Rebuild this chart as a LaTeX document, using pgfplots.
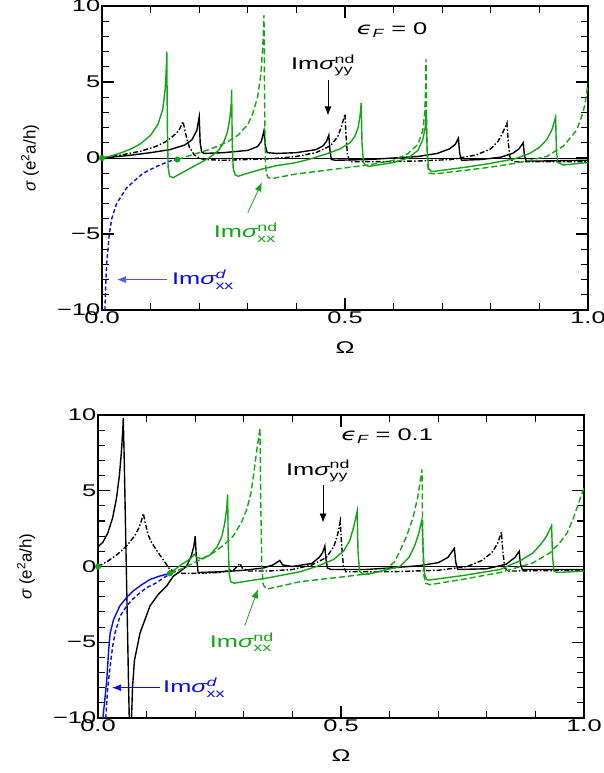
\documentclass[border=0pt]{standalone}
\usepackage{fontspec}
\setmainfont{Liberation Sans}
\newfontfamily\dejavu{DejaVu Sans}
\usepackage{amsmath}
\usepackage{pgfplots}
\pgfplotsset{compat=1.18}
\usetikzlibrary{arrows.meta}

\definecolor{pgreen}{RGB}{20,165,20}
\definecolor{pblue}{RGB}{10,10,240}
\newcommand\fs{\fontsize{17}{20}\selectfont}

\pgfplotsset{
  sigpanel/.style={
    scale only axis, width=486bp,
    xmin=0, xmax=1, ymin=-10, ymax=10,
    xtick={0,0.5,1}, xticklabels={0.0,0.5,1.0},
    ytick={-10,-5,0,5,10}, yticklabels={−10,−5,0,5,10},
    minor x tick num=4, minor y tick num=4,
    tick align=inside,
    major tick length=12bp, minor tick length=7bp,
    tick style={black, line width=1.1bp},
    axis line style={line width=1.6bp},
    tick label style={font=\fs, xscale=1.5},
    yticklabel style={inner sep=1bp},
    xticklabel style={inner sep=1bp},
    xlabel={Ω},
    ylabel={{\itshape σ} (e$^{\text{2}}$a/h)},
    every axis y label/.style={at={(axis description cs:-0.148,0.5)}, rotate=90, anchor=center, font=\fs},
    every axis x label/.style={at={(axis description cs:0.5,0)}, anchor=center, yshift=-38bp, xscale=1.5, font=\fs},
  },
  gsol/.style={pgreen, line width=1.4bp},
  gdash/.style={pgreen, line width=1.4bp, dash pattern=on 6bp off 3bp},
  ksol/.style={black, line width=1.4bp},
  kdd/.style={black, line width=1.4bp, dash pattern=on 5bp off 2bp on 1.5bp off 2bp},
  bsol/.style={pblue, line width=1.4bp},
  bdash/.style={pblue, line width=1.4bp, dash pattern=on 4bp off 2.5bp},
  zline/.style={black, line width=0.8bp},
  gdot/.style={only marks, mark=*, mark size=2.8bp, pgreen},
}

\begin{document}
\begin{tikzpicture}[x=1bp,y=1bp]
\useasboundingbox (0,0) rectangle (604,773);

% ---------------- top panel: eps_F = 0
\begin{axis}[sigpanel, height=304bp, at={(102bp,463bp)}, anchor=south west]
\addplot[zline] coordinates {(0,0) (1,0)};

% black dash-dot
\addplot[kdd] coordinates {
(0,0) (0.04,0.2) (0.08,0.45) (0.11,0.75) (0.13,1.05) (0.145,1.4) (0.158,1.8)
(0.164,2.2) (0.1667,2.4) (0.17,1.9) (0.175,1.2) (0.18,0.7) (0.19,0.2) (0.2,0.0)
(0.21,-0.1) (0.25,-0.15) (0.3,-0.1) (0.35,-0.05) (0.4,0.1) (0.44,0.35) (0.47,0.8)
(0.485,1.4) (0.493,2.1) (0.5,2.9) (0.502,1.5) (0.505,0.2) (0.51,-0.25) (0.55,-0.25)
(0.65,-0.2) (0.72,-0.1) (0.77,0.2) (0.8,0.6) (0.815,1.1) (0.825,1.7) (0.8333,2.3)
(0.836,1.0) (0.84,-0.1) (0.85,-0.25) (1.0,-0.25)};

% black solid
\addplot[ksol] coordinates {
(0,0) (0.05,0.15) (0.1,0.35) (0.14,0.55) (0.17,0.85) (0.185,1.2) (0.195,1.8)
(0.2,2.7) (0.202,1.0) (0.205,0.4) (0.21,0.3) (0.25,0.35) (0.3,0.5) (0.32,0.75)
(0.328,1.1) (0.3333,1.8) (0.336,0.8) (0.34,0.35) (0.36,0.3) (0.4,0.35) (0.44,0.55)
(0.455,0.8) (0.462,1.1) (0.4667,1.5) (0.469,0.5) (0.472,-0.1) (0.48,-0.15)
(0.55,-0.1) (0.6,0.0) (0.65,0.1) (0.69,0.3) (0.715,0.6) (0.727,0.9) (0.7333,1.3)
(0.736,0.3) (0.74,-0.15) (0.78,-0.1) (0.82,0.05) (0.845,0.3) (0.858,0.6)
(0.8667,1.0) (0.869,0.2) (0.873,-0.2) (0.9,-0.2) (1.0,-0.15)};

% blue dashed
\addplot[bdash] coordinates {
(0.006,-10) (0.008,-8) (0.01,-6.8) (0.015,-5) (0.02,-4) (0.03,-3) (0.04,-2.5)
(0.05,-2) (0.07,-1.4) (0.085,-1.0) (0.1,-0.75) (0.12,-0.45) (0.14,-0.2) (0.155,-0.1)};

% green dashed
\addplot[gdash] coordinates {
(0.155,-0.1) (0.18,0.15) (0.2,0.35) (0.22,0.55) (0.24,0.8) (0.26,1.1) (0.28,1.5)
(0.3,2.2) (0.31,2.9) (0.32,4.0) (0.327,5.5) (0.331,7.5) (0.3333,9.4) (0.3345,4)
(0.336,0) (0.338,-1.0) (0.342,-1.3) (0.35,-1.35) (0.4,-1.05) (0.45,-0.85)
(0.5,-0.65) (0.55,-0.45) (0.6,-0.15) (0.63,0.3) (0.65,0.9) (0.66,1.8) (0.664,3.0)
(0.666,4.8) (0.6667,6.5) (0.668,2) (0.67,-0.5) (0.673,-1.0) (0.685,-1.05)
(0.75,-0.8) (0.8,-0.6) (0.85,-0.35) (0.88,-0.15) (0.915,0.1) (0.95,0.8)
(0.977,1.85) (0.99,3.0) (0.995,3.8) (1.0,4.9)};

% green solid
\addplot[gsol] coordinates {
(0,0) (0.02,0.15) (0.04,0.35) (0.06,0.6) (0.08,0.95) (0.1,1.5) (0.115,2.2)
(0.125,3.2) (0.13,4.5) (0.1325,6.0) (0.1333,7.0) (0.1345,2) (0.136,-0.6)
(0.139,-1.2) (0.146,-1.3) (0.22,0) (0.24,0.5) (0.25,1.0) (0.258,1.7) (0.263,2.6)
(0.266,3.6) (0.2667,4.5) (0.268,1) (0.27,-0.7) (0.274,-1.1) (0.28,-1.2) (0.3,-1.0)
(0.33,-0.72) (0.36,-0.5) (0.4,-0.3) (0.43,-0.05) (0.46,0.25) (0.49,0.6) (0.51,1.0)
(0.52,1.4) (0.527,2.0) (0.531,2.8) (0.5333,3.6) (0.535,1) (0.538,-0.3) (0.543,-0.5)
(0.55,-0.55) (0.6,-0.3) (0.63,0) (0.65,0.5) (0.66,1.2) (0.665,2.0) (0.6667,3.2)
(0.669,0.5) (0.672,-0.7) (0.678,-0.9) (0.75,-0.6) (0.8,-0.35) (0.85,-0.05)
(0.88,0.3) (0.9,0.7) (0.915,1.2) (0.925,1.8) (0.93,2.3) (0.9333,2.7) (0.935,0.5)
(0.938,-0.3) (0.949,-0.46) (1.0,-0.3)};

\addplot[gdot] coordinates {(0,0) (0.155,-0.1)};

\node[font=\fs, xscale=1.5] at (axis cs:0.597,8.4) {{\dejavu\itshape ϵ}$_{\textit{F}}$ = 0};
\node[font=\fs, xscale=1.5] at (axis cs:0.455,6.1) {Im{\itshape σ}$^{\text{nd}}_{\text{yy}}$};
\draw[-{Latex[length=9bp,width=7bp]}, line width=0.8bp] (axis cs:0.465,5.1) -- (axis cs:0.465,2.8);
\node[font=\fs, xscale=1.5, text=pgreen] at (axis cs:0.296,-4.9) {Im{\itshape σ}$^{\text{nd}}_{\text{xx}}$};
\draw[pgreen, -{Latex[length=9bp,width=7bp]}, line width=0.8bp] (axis cs:0.300,-3.6) -- (axis cs:0.329,-1.6);
\node[font=\fs, xscale=1.5, text=pblue] at (axis cs:0.208,-8.0) {Im{\itshape σ}$^{\textit{d}}_{\text{xx}}$};
\draw[pblue!70, -{Latex[length=9bp,width=7bp]}, line width=0.8bp] (axis cs:0.134,-8.0) -- (axis cs:0.031,-8.0);
\end{axis}

% ---------------- bottom panel: eps_F = 0.1
\begin{axis}[sigpanel, height=303bp, at={(98bp,55bp)}, anchor=south west]
\addplot[zline] coordinates {(0,0) (1,0)};

% black dash-dot
\addplot[kdd] coordinates {
(0,0) (0.02,0.35) (0.04,0.8) (0.06,1.4) (0.075,2.0) (0.085,2.6) (0.09,3.1)
(0.0933,3.5) (0.097,2.9) (0.103,2.1) (0.11,1.6) (0.12,1.1) (0.134,0.45)
(0.148,-0.2) (0.17,-0.45) (0.2,-0.45) (0.25,-0.4) (0.28,-0.2) (0.292,0.2)
(0.297,-0.1) (0.31,-0.3) (0.35,-0.3) (0.4,-0.2) (0.44,0.1) (0.47,0.6) (0.485,1.3)
(0.493,2.1) (0.4985,3.0) (0.501,1.5) (0.505,0.0) (0.51,-0.35) (0.6,-0.35)
(0.7,-0.25) (0.76,0.0) (0.79,0.4) (0.81,0.9) (0.822,1.5) (0.83,2.26) (0.833,1.0)
(0.837,-0.1) (0.845,-0.3) (1.0,-0.25)};

% black solid
\addplot[ksol] coordinates {
(0,1.3) (0.01,1.6) (0.02,2.2) (0.03,3.2) (0.038,4.5) (0.044,6.0) (0.048,7.5)
(0.051,9.0) (0.052,9.8) (0.054,7) (0.057,2) (0.06,-3) (0.063,-8) (0.065,-11)};
\addplot[ksol] coordinates {
(0.068,-11) (0.071,-8) (0.075,-6.2) (0.0864,-4.4) (0.107,-2.6) (0.125,-1.8)
(0.141,-1.3) (0.155,-0.64) (0.17,-0.3) (0.182,0.0) (0.192,0.7) (0.197,1.3)
(0.2,2.0) (0.202,0.8) (0.206,-0.4) (0.25,-0.35) (0.3,-0.25) (0.34,-0.1)
(0.36,0.1) (0.374,0.4) (0.38,0.1) (0.4,0.0) (0.44,0.2) (0.455,0.6) (0.462,0.9)
(0.4667,1.35) (0.469,0.5) (0.472,-0.1) (0.48,-0.2) (0.55,-0.2) (0.6,-0.1)
(0.66,0.05) (0.7,0.25) (0.72,0.6) (0.7333,1.2) (0.736,0.3) (0.74,-0.2) (0.8,-0.15)
(0.84,0.15) (0.858,0.6) (0.8667,1.0) (0.869,0.2) (0.873,-0.2) (0.9,-0.2) (1.0,-0.2)};

% blue solid
\addplot[bsol] coordinates {
(0.01,-10) (0.014,-8.8) (0.018,-7.5) (0.022,-5.5) (0.025,-4.4) (0.032,-3.5)
(0.045,-2.6) (0.06,-2.0) (0.073,-1.6) (0.09,-1.2) (0.107,-0.86) (0.125,-0.65)
(0.148,-0.45)};

% blue dashed
\addplot[bdash] coordinates {
(0.016,-10) (0.02,-8) (0.025,-6.6) (0.03,-5.3) (0.035,-4.4) (0.045,-3.3)
(0.059,-2.6) (0.07,-2.2) (0.086,-1.74) (0.1,-1.4) (0.12,-1.08) (0.135,-0.75)
(0.148,-0.5)};

% green dashed
\addplot[gdash] coordinates {
(0.148,-0.5) (0.182,0.0) (0.21,0.45) (0.237,0.9) (0.26,1.45) (0.278,2.0)
(0.295,2.9) (0.306,3.76) (0.315,4.9) (0.32,6.0) (0.326,7.5) (0.3333,9.15)
(0.335,4) (0.337,0) (0.34,-1.2) (0.347,-1.5) (0.416,-1.0) (0.5,-0.7) (0.55,-0.5)
(0.587,-0.3) (0.61,0.3) (0.621,1.0) (0.635,2.0) (0.648,3.2) (0.658,4.6)
(0.6667,6.4) (0.668,2.5) (0.67,-0.5) (0.674,-1.1) (0.683,-1.2) (0.75,-0.85)
(0.827,-0.4) (0.895,0.24) (0.93,0.9) (0.95,1.56) (0.965,2.2) (0.977,3.1)
(0.988,4.1) (1.0,5.2)};

% green solid
\addplot[gsol] coordinates {
(0.148,-0.45) (0.16,-0.15) (0.175,0.2) (0.19,0.5) (0.198,0.8) (0.203,0.6)
(0.215,0.5) (0.23,0.75) (0.245,1.3) (0.255,2.0) (0.261,2.9) (0.265,3.9)
(0.2667,4.75) (0.268,1.5) (0.27,-0.5) (0.273,-1.0) (0.28,-1.1) (0.35,-0.75)
(0.415,-0.35) (0.45,0.0) (0.484,0.45) (0.505,1.0) (0.518,1.7) (0.526,2.6)
(0.5333,3.65) (0.535,1.0) (0.538,-0.3) (0.545,-0.5) (0.553,-0.53) (0.621,0.0)
(0.64,0.6) (0.652,1.4) (0.66,2.2) (0.6667,3.1) (0.669,1.0) (0.672,-0.5)
(0.676,-0.85) (0.68,-0.9) (0.75,-0.6) (0.827,-0.2) (0.87,0.4) (0.895,0.9)
(0.912,1.5) (0.923,2.0) (0.9333,2.7) (0.935,0.8) (0.938,-0.3) (0.945,-0.4)
(1.0,-0.3)};

\addplot[gdot] coordinates {(0,0) (0.148,-0.45)};

\node[font=\fs, xscale=1.5] at (axis cs:0.595,8.6) {{\dejavu\itshape ϵ}$_{\textit{F}}$ = 0.1};
\node[font=\fs, xscale=1.5] at (axis cs:0.453,6.3) {Im{\itshape σ}$^{\text{nd}}_{\text{yy}}$};
\draw[-{Latex[length=9bp,width=7bp]}, line width=0.8bp] (axis cs:0.463,5.4) -- (axis cs:0.463,2.9);
\node[font=\fs, xscale=1.5, text=pgreen] at (axis cs:0.296,-5.0) {Im{\itshape σ}$^{\text{nd}}_{\text{xx}}$};
\draw[pgreen, -{Latex[length=9bp,width=7bp]}, line width=0.8bp] (axis cs:0.302,-3.9) -- (axis cs:0.329,-1.5);
\node[font=\fs, xscale=1.5, text=pblue] at (axis cs:0.198,-8.0) {Im{\itshape σ}$^{\textit{d}}_{\text{xx}}$};
\draw[pblue, -{Latex[length=9bp,width=7bp]}, line width=0.8bp] (axis cs:0.128,-8.0) -- (axis cs:0.029,-8.0);
\end{axis}
\end{tikzpicture}
\end{document}
